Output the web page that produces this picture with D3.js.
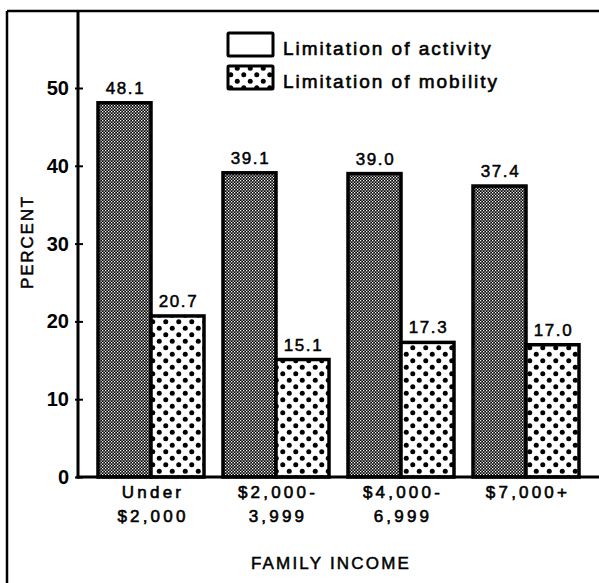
<!DOCTYPE html>
<html>
<head>
<meta charset="utf-8">
<script src="https://cdn.jsdelivr.net/npm/d3@7"></script>
<style>
  html, body { margin: 0; padding: 0; background: #fff; }
  svg { display: block; }
  text { font-family: "Liberation Sans", Arial, sans-serif; fill: #000; }
</style>
</head>
<body>
<div id="chart"></div>
<script>
// ---- data ----
const categories = ["Under $2,000", "$2,000-3,999", "$4,000-6,999", "$7,000+"];
const categoryLines = [["Under", "$2,000"], ["$2,000-", "3,999"], ["$4,000-", "6,999"], ["$7,000+"]];
const seriesNames = ["Limitation of activity", "Limitation of mobility"];
const activity = [48.1, 39.1, 39.0, 37.4];
const mobility = [20.7, 15.1, 17.3, 17.0];
const yTicks = [0, 10, 20, 30, 40, 50];
const yTitle = "PERCENT";
const xTitle = "FAMILY INCOME";

// ---- layout ----
const W = 599, H = 583;
const frameLeft = 7, frameTop = 11;
const axisX = 78, baseY = 477;

const svg = d3.select("#chart").append("svg").attr("width", W).attr("height", H);
const defs = svg.append("defs");

// checker pattern (activity)
const pc = defs.append("pattern").attr("id", "checker").attr("patternUnits", "userSpaceOnUse")
  .attr("width", 3).attr("height", 3);
pc.append("rect").attr("width", 3).attr("height", 3).attr("fill", "#000");
pc.append("rect").attr("x", 0).attr("y", 0).attr("width", 1.3).attr("height", 1.3).attr("fill", "#fff");
pc.append("rect").attr("x", 1.5).attr("y", 1.5).attr("width", 1.3).attr("height", 1.3).attr("fill", "#fff");

// dotted pattern (mobility)
const pd = defs.append("pattern").attr("id", "dots").attr("patternUnits", "userSpaceOnUse")
  .attr("width", 13).attr("height", 13);
pd.append("rect").attr("width", 13).attr("height", 13).attr("fill", "#fff");
pd.append("circle").attr("cx", 3.25).attr("cy", 3.25).attr("r", 2.5).attr("fill", "#000");
pd.append("circle").attr("cx", 9.75).attr("cy", 9.75).attr("r", 2.5).attr("fill", "#000");

const x0 = d3.scaleBand().domain(categories).range([axisX, W]).paddingInner(0.152).paddingOuter(0.16);
const x1 = d3.scaleBand().domain(seriesNames).range([0, x0.bandwidth()]);
const y = d3.scaleLinear().domain([0, 50]).range([baseY, 88]);

// frame
svg.append("line").attr("x1", frameLeft).attr("x2", W).attr("y1", frameTop).attr("y2", frameTop)
  .attr("stroke", "#000").attr("stroke-width", 2.5);
svg.append("line").attr("x1", frameLeft).attr("x2", frameLeft).attr("y1", frameTop).attr("y2", H)
  .attr("stroke", "#000").attr("stroke-width", 2.5);

// bars
const series = [activity, mobility];
const fills = ["url(#checker)", "url(#dots)"];
categories.forEach((c, i) => {
  series.forEach((vals, s) => {
    const bx = x0(c) + x1(seriesNames[s]);
    svg.append("rect")
      .attr("x", bx).attr("y", y(vals[i]))
      .attr("width", x1.bandwidth()).attr("height", y(0) - y(vals[i]))
      .attr("fill", fills[s]).attr("stroke", "#000").attr("stroke-width", 3.5);
    svg.append("text")
      .attr("x", bx + x1.bandwidth() / 2 + 1).attr("y", y(vals[i]) - 9)
      .attr("text-anchor", "middle").attr("font-size", 17).attr("letter-spacing", 1.6)
      .attr("stroke", "#000").attr("stroke-width", 0.5)
      .text(vals[i].toFixed(1));
  });
});

// y axis
svg.append("line").attr("x1", axisX).attr("x2", axisX).attr("y1", frameTop).attr("y2", baseY + 1.5)
  .attr("stroke", "#000").attr("stroke-width", 3);
const yAxis = d3.axisLeft(y).tickValues(yTicks).tickSize(0).tickPadding(9).tickFormat(d3.format("d"));
const gy = svg.append("g").attr("transform", `translate(${axisX},0)`).call(yAxis);
gy.select(".domain").remove();
gy.selectAll("text").attr("font-size", 20).attr("font-weight", "bold")
  .attr("font-family", "Liberation Sans, Arial, sans-serif").attr("fill", "#000");
gy.selectAll(".tick").append("line").attr("x1", -3).attr("x2", 5).attr("y1", 0).attr("y2", 0)
  .attr("stroke", "#000").attr("stroke-width", 2);

// baseline
svg.append("line").attr("x1", axisX - 1.5).attr("x2", W).attr("y1", baseY).attr("y2", baseY)
  .attr("stroke", "#000").attr("stroke-width", 3);

// x category labels
categories.forEach((c, i) => {
  const cx = x0(c) + x0.bandwidth() / 2;
  categoryLines[i].forEach((line, k) => {
    svg.append("text").attr("x", cx + 2).attr("y", 498 + k * 24)
      .attr("text-anchor", "middle").attr("font-size", 17).attr("letter-spacing", 3.2)
      .attr("stroke", "#000").attr("stroke-width", 0.6).text(line);
  });
});

// axis titles
svg.append("text").attr("transform", "translate(33,242) rotate(-90)")
  .attr("text-anchor", "middle").attr("font-size", 17).attr("letter-spacing", 1.8)
  .attr("stroke", "#000").attr("stroke-width", 0.5).text(yTitle);
svg.append("text").attr("x", 331).attr("y", 569).attr("text-anchor", "middle")
  .attr("font-size", 17).attr("letter-spacing", 2.2)
  .attr("stroke", "#000").attr("stroke-width", 0.5).text(xTitle);

// legend
const legendFills = ["#fff", "url(#dots)"];
seriesNames.forEach((n, i) => {
  const ly = 33 + i * 33;
  svg.append("rect").attr("x", 228).attr("y", ly).attr("width", 45).attr("height", 23)
    .attr("fill", legendFills[i]).attr("stroke", "#000").attr("stroke-width", 3).attr("rx", 1);
  svg.append("text").attr("x", 283).attr("y", ly + 22).attr("font-size", 19)
    .attr("letter-spacing", 2).attr("stroke", "#000").attr("stroke-width", 0.6).text(n);
});
</script>
</body>
</html>
